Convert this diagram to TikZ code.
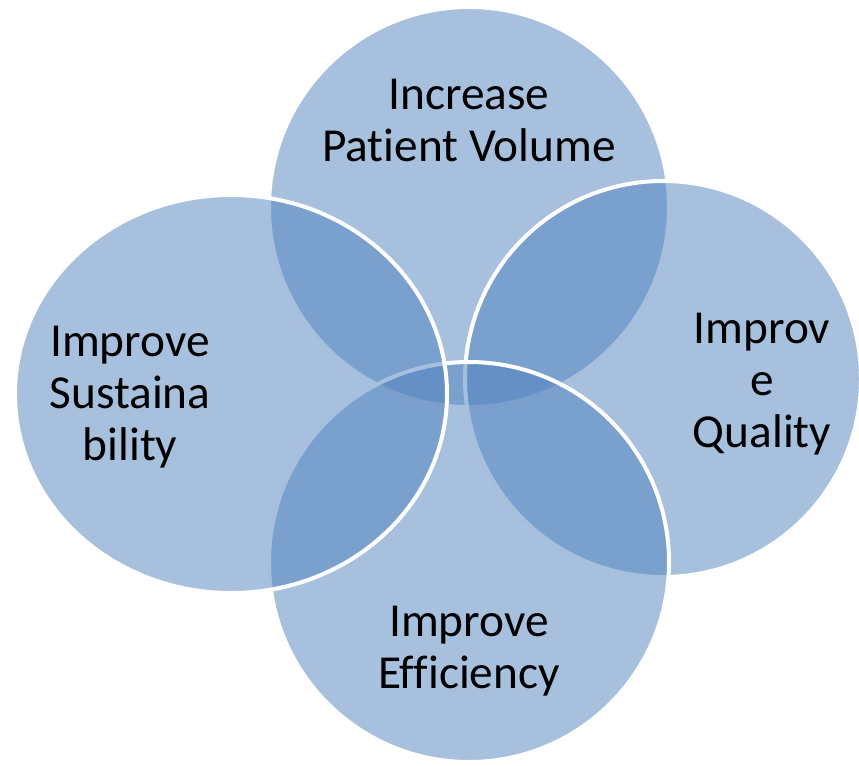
\documentclass[tikz,border=0pt]{standalone}
\usepackage{fontspec}
\setmainfont{Carlito}[Ligatures=NoCommon]
\definecolor{accentblue}{RGB}{79,129,189}

\tikzset{
  venn/.style={fill=accentblue, fill opacity=0.5, draw=white, line width=3pt},
  goal/.style={align=center, inner sep=0pt, anchor=base, text=black,
    font=\fontsize{35.5}{39}\selectfont}
}

\begin{document}
\begin{tikzpicture}[x=0.75pt, y=0.75pt]
\useasboundingbox (0,0) rectangle (859,765);

\draw[venn] (469,558) circle (200);
\draw[venn] (663,386) circle (198);
\draw[venn] (469,203) circle (200);
\draw[venn] (231,371) ellipse [x radius=216, y radius=199];

\node[goal] (volume) at (469,603.5) {Increase\\Patient Volume};
\node[goal] (quality) at (762,318) {Improv\\e\\Quality};
\node[goal] (efficiency) at (469,77) {Improve\\Efficiency};
\node[goal] (sustain) at (130,305) {Improve\\Sustaina\\bility};

\end{tikzpicture}
\end{document}
